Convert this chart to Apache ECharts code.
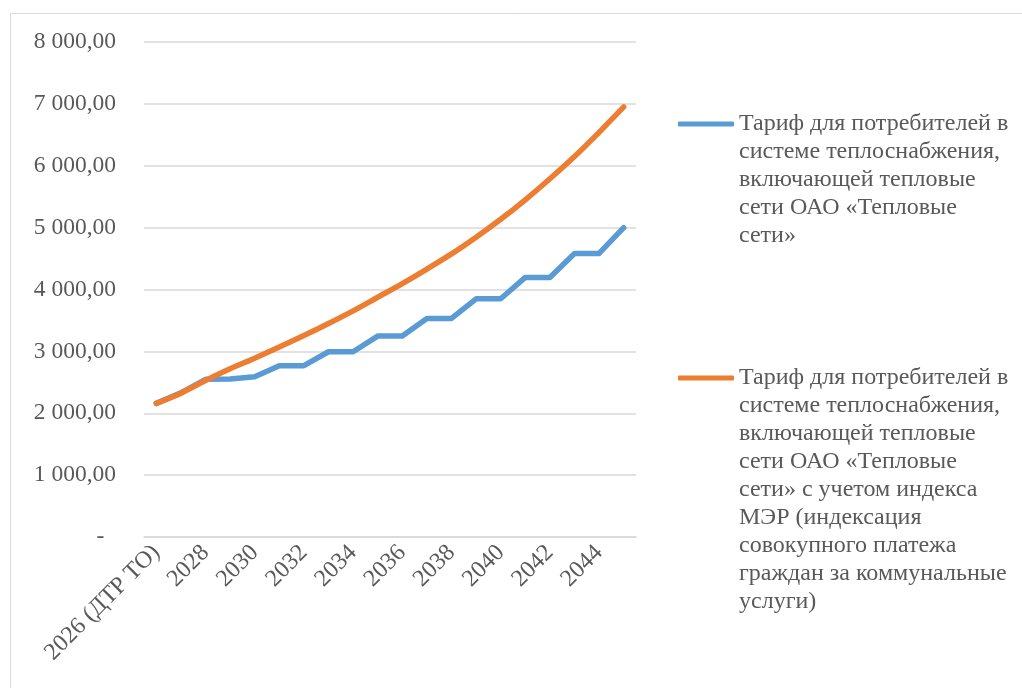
<!DOCTYPE html>
<html>
<head>
<meta charset="utf-8">
<script src="https://cdn.jsdelivr.net/npm/echarts@6/dist/echarts.min.js"></script>
<style>
  html, body { margin: 0; padding: 0; background: #fff; }
  #chart { width: 1022px; height: 688px; }
</style>
</head>
<body>
<div id="chart"></div>
<script>
// Годы (категории оси X)
const years = ['2026 (ДТР ТО)', '2027', '2028', '2029', '2030', '2031', '2032', '2033', '2034', '2035',
  '2036', '2037', '2038', '2039', '2040', '2041', '2042', '2043', '2044', '2045'];

// Тариф для потребителей (базовый)
const tariffBase = [2160, 2330, 2548, 2552, 2590, 2768, 2768, 2994, 2994, 3247,
  3247, 3533, 3533, 3850, 3850, 4195, 4195, 4583, 4583, 5000];

// Тариф с учетом индекса МЭР
const tariffMer = [2160, 2325, 2530, 2720, 2890, 3070, 3255, 3450, 3655, 3875,
  4095, 4330, 4575, 4845, 5135, 5450, 5790, 6150, 6540, 6950];

const nameBase = 'Тариф для потребителей в системе теплоснабжения, включающей тепловые сети ОАО «Тепловые сети»';
const nameMer = 'Тариф для потребителей в системе теплоснабжения, включающей тепловые сети ОАО «Тепловые сети» с учетом индекса МЭР (индексация совокупного платежа граждан за коммунальные услуги)';

// Переносы строк в легенде как на исходной картинке
const legendLinesBase = ['Тариф для потребителей в', 'системе теплоснабжения,', 'включающей тепловые',
  'сети ОАО «Тепловые', 'сети»'];
const legendLinesMer = ['Тариф для потребителей в', 'системе теплоснабжения,', 'включающей тепловые',
  'сети ОАО «Тепловые', 'сети» с учетом индекса', 'МЭР (индексация', 'совокупного платежа',
  'граждан за коммунальные', 'услуги)'];

const FONT = "'Liberation Serif', 'Times New Roman', serif";
const TEXT_COLOR = '#595959';
const LINE_H = 28;

function fmtValue(v) {
  if (v === 0) return '-  ';
  return String(v).replace(/\B(?=(\d{3})+(?!\d))/g, ' ') + ',00';
}

// легенда: текст центрируется по значку, поэтому сверху добавляем пустые строки,
// чтобы значок стоял напротив первой строки
function makeLegend(name, lines, left, iconY) {
  const n = lines.length;
  const padded = new Array(n - 1).fill(' ').concat(lines);
  return {
    data: [name],
    orient: 'vertical',
    left: left,
    top: iconY - (2 * n - 1) * LINE_H / 2,
    padding: 0,
    icon: 'roundRect',
    itemWidth: 56,
    itemHeight: 5,
    selectedMode: false,
    formatter: () => padded.join('\n'),
    textStyle: {
      fontFamily: FONT,
      fontSize: 24,
      color: TEXT_COLOR,
      lineHeight: LINE_H
    }
  };
}

const chart = echarts.init(document.getElementById('chart'), null, { renderer: 'canvas' });

const option = {
  animation: false,
  backgroundColor: '#fff',
  graphic: [{
    type: 'rect',
    shape: { x: 10.5, y: 13.5, width: 1020, height: 700 },
    style: { fill: 'none', stroke: '#d9d9d9', lineWidth: 1 },
    silent: true
  }],
  grid: { left: 144, right: 386, top: 42, bottom: 151 },
  legend: [
    makeLegend(nameBase, legendLinesBase, 678, 124),
    makeLegend(nameMer, legendLinesMer, 678, 378)
  ],
  xAxis: {
    type: 'category',
    data: years,
    boundaryGap: true,
    axisLine: { lineStyle: { color: '#d9d9d9', width: 1.5 } },
    axisTick: { show: false },
    axisLabel: {
      interval: 1,
      rotate: 45,
      margin: 12,
      fontFamily: FONT,
      fontSize: 24,
      color: TEXT_COLOR
    }
  },
  yAxis: {
    type: 'value',
    min: 0,
    max: 8000,
    interval: 1000,
    axisLine: { show: false },
    axisTick: { show: false },
    splitLine: { lineStyle: { color: '#d9d9d9', width: 1.5 } },
    axisLabel: {
      margin: 28,
      fontFamily: FONT,
      fontSize: 23.5,
      color: TEXT_COLOR,
      formatter: fmtValue
    }
  },
  series: [
    {
      name: nameBase,
      type: 'line',
      data: tariffBase,
      symbol: 'none',
      lineStyle: { color: '#5b9bd5', width: 5.5, cap: 'round', join: 'round' },
      itemStyle: { color: '#5b9bd5' },
      z: 2
    },
    {
      name: nameMer,
      type: 'line',
      data: tariffMer,
      smooth: 0.3,
      symbol: 'none',
      lineStyle: { color: '#ed7d31', width: 5.5, cap: 'round', join: 'round' },
      itemStyle: { color: '#ed7d31' },
      z: 3
    }
  ]
};

chart.setOption(option);
</script>
</body>
</html>
